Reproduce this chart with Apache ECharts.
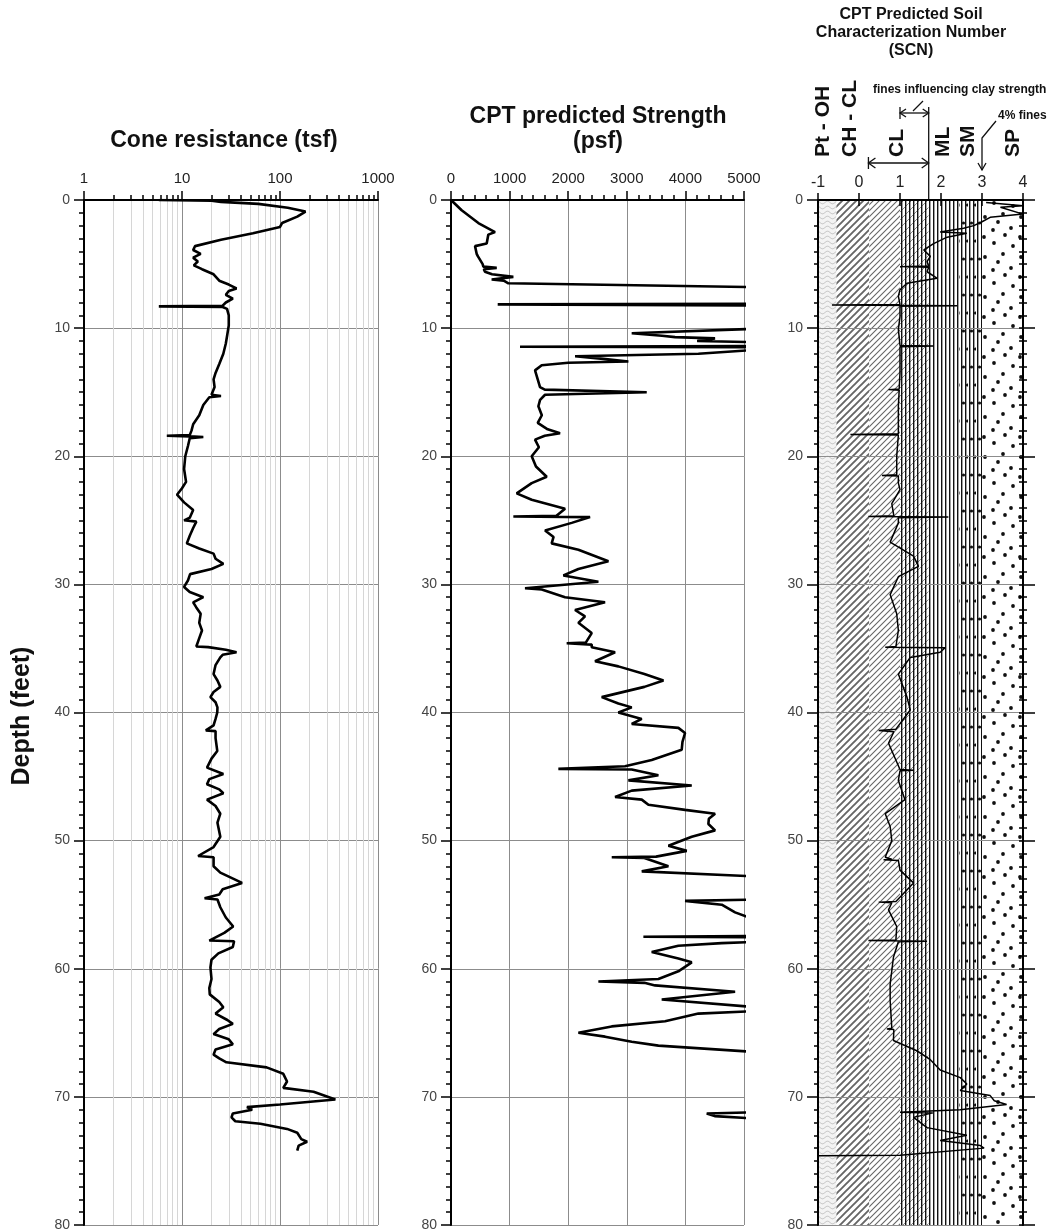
<!DOCTYPE html>
<html>
<head>
<meta charset="utf-8">
<title>CPT log</title>
<script src="https://cdn.jsdelivr.net/npm/echarts@6/dist/echarts.min.js"></script>
<style>
  html, body { margin: 0; padding: 0; background: #fff; }
  #main { width: 1054px; height: 1232px; }
</style>
</head>
<body>
<div id="main"></div>
<script>
// depth (feet) / cone resistance qc (tsf)
var qcDepth = [0, 0.05, 0.15, 0.3, 0.6, 0.9, 1.3, 1.8, 2.1, 2.6, 3.1, 3.6, 3.9, 4.2, 4.5, 4.8, 5.1, 5.4, 5.8, 6.3,
  6.6, 6.9, 7.1, 7.4, 7.7, 8.0, 8.25, 8.3, 8.35, 8.5, 9.0, 9.8, 10.5, 11.2, 12.0, 12.8, 13.5, 14.0, 14.6, 15.2,
  15.3, 15.4, 16.0, 16.8, 17.5, 18.0, 18.35, 18.4, 18.45, 18.5, 18.6, 19.2, 20.0, 21.0, 22.0, 22.5, 23.0, 23.6, 24.2, 24.8,
  25.0, 25.1, 25.6, 26.2, 26.8, 27.2, 27.6, 28.0, 28.4, 28.8, 29.2, 29.7, 30.2, 30.6, 31.0, 31.4, 31.8, 32.3, 33.0, 33.6,
  34.2, 34.85, 34.9, 35.1, 35.3, 35.5, 35.7, 36.3, 37.0, 37.5, 38.0, 38.4, 38.8, 39.2, 39.6, 40.0, 40.5, 41.0, 41.4, 41.45,
  42.0, 43.0, 43.6, 44.3, 44.8, 45.2, 45.6, 46.0, 46.3, 46.8, 47.3, 47.9, 48.6, 49.7, 50.5, 51.2, 51.3, 52.0, 52.5, 53.3,
  53.8, 54.2, 54.5, 54.6, 55.2, 56.0, 56.7, 57.2, 57.8, 57.85, 58.3, 58.8, 59.3, 59.9, 60.8, 61.5, 62.0, 62.6, 63.0, 63.5,
  64.0, 64.3, 64.7, 65.1, 65.5, 65.9, 66.3, 66.7, 67.0, 67.3, 67.7, 68.2, 68.8, 69.3, 69.6, 70.2, 70.6, 70.8, 71.0, 71.3,
  71.6, 71.9, 72.1, 72.5, 72.8, 73.3, 73.5, 73.8, 74.2];
var qcValue = [5.8, 20, 25, 60, 120, 182, 150, 105, 100, 53, 25, 13.6, 13, 15.5, 13, 14.5, 13.2, 16, 21, 24,
  30, 36, 30, 28, 33, 28, 26, 5.8, 26, 28.8, 30, 30, 29, 28, 26.4, 24, 22, 21, 21.5, 20,
  25, 19, 16.5, 15, 13, 12.5, 12, 7, 12, 16.5, 12, 11.5, 10.8, 10.5, 11, 10, 8.9, 10.5, 13, 12,
  10.5, 14, 13, 12, 11.2, 15, 21, 22, 26.4, 20, 12.1, 11.5, 10.5, 12, 16.5, 13, 14, 15.5, 15, 16,
  15, 14, 18.5, 28, 36, 26, 24.6, 22, 21, 23, 24.6, 21, 19.5, 22, 23, 22.9, 22, 21, 17.5, 22,
  22, 22.9, 20, 18, 26.4, 19, 18, 24, 26.4, 18, 22, 24.6, 23, 24.6, 21, 14.6, 21, 21, 24.6, 41,
  26, 24, 17, 23, 24.6, 28, 33.3, 27, 19, 34, 33, 23.5, 20, 19.5, 20, 19, 19.2, 24, 26.4, 22,
  29, 33, 24, 21, 30, 33, 22, 21, 24, 28.4, 73, 108, 118, 108, 220, 367, 100, 46, 52, 33,
  32, 35, 63, 118, 150, 165, 189, 155, 150];

// depth (feet) / predicted undrained strength (psf); values past 5000 run off the chart
var suDepth = [0, 0.8, 1.8, 2.5, 2.7, 3.4, 3.6, 4.2, 4.4, 5.0, 5.2, 5.3, 5.4, 5.6, 5.8, 6.0, 6.2, 6.3, 6.5, 6.8,
  8.1, 8.15, 8.25, 10.0, 10.05, 10.4, 10.6, 10.7, 10.8, 11.0, 11.1, 11.4, 11.45, 11.5, 11.7, 12.0, 12.2, 12.4, 12.6, 12.7,
  12.9, 13.3, 14.0, 14.6, 14.8, 15.0, 15.2, 15.6, 16.1, 16.8, 17.4, 17.9, 18.2, 18.4, 18.7, 19.3, 20.0, 20.8, 21.6, 22.1,
  22.9, 23.4, 24.1, 24.65, 24.7, 24.75, 25.2, 25.8, 26.3, 26.8, 27.3, 28.2, 28.8, 29.3, 29.8, 30.3, 30.4, 31.0, 31.4, 32.0,
  32.5, 33.0, 33.8, 34.55, 34.6, 34.7, 34.9, 35.3, 36.0, 36.4, 37.0, 37.5, 38.0, 38.8, 39.3, 39.6, 40.0, 40.5, 40.9, 41.2,
  41.6, 42.3, 42.9, 43.7, 44.2, 44.35, 44.4, 44.45, 44.9, 45.3, 45.7, 46.1, 46.6, 46.8, 47.2, 47.6, 47.9, 48.3, 48.7, 49.2,
  49.7, 50.4, 50.8, 51.25, 51.3, 51.35, 52.0, 52.4, 52.8, 54.6, 54.7, 55.0, 55.6, 56.2, 57.45, 57.5, 57.55, 57.9, 58.0, 58.2,
  58.7, 59.2, 59.5, 60.2, 60.8, 61.0, 61.1, 61.3, 61.8, 62.4, 63.0, 63.3, 63.5, 64.1, 64.5, 65.0, 65.3, 65.7, 66.0, 66.5,
  71.2, 71.3, 71.5, 71.7, 74.2];
var suValue = [0, 182, 467, 751, 637, 609, 410, 438, 460, 540, 552, 780, 560, 580, 700, 1064, 694, 900, 979, 5200,
  6000, 797, 6000, 6000, 5200, 3084, 3600, 3824, 4506, 4200, 5200, 5200, 1178, 5200, 5200, 4222, 2117, 2600, 3027, 2000,
  1548, 1434, 1480, 1519, 1600, 3340, 1605, 1520, 1491, 1550, 1480, 1650, 1861, 1600, 1434, 1500, 1377, 1450, 1633, 1377,
  1121, 1377, 1946, 1800, 1064, 2373, 2060, 1605, 1750, 1718, 2174, 2686, 2174, 1918, 2515, 1263, 1548, 1946, 2629, 2117,
  2287, 2174, 2401, 2300, 1974, 2401, 2401, 2800, 2458, 2856, 3300, 3625, 3300, 2572, 2856, 3084, 2856, 3255, 3084, 3880,
  3994, 3950, 3937, 3425, 2970, 3000, 1832, 3084, 3539, 3027, 4108, 3084, 2800, 3255, 3369, 3994, 4506, 4400, 4392, 4506,
  4108, 3710, 4023, 3500, 2743, 3300, 3710, 3255, 5200, 5200, 3994, 4620, 4848, 5200, 5200, 3283, 5200, 5200, 4620, 3880,
  3425, 3880, 4108, 3880, 3539, 2515, 3300, 3482, 4848, 3596, 5200, 5200, 4222, 3653, 2743, 2174, 2629, 3084, 3539, 5200,
  5200, 4364, 4500, 5200, 5200];

// depth (feet) / soil characterization number
var scnDepth = [0.2, 0.45, 0.57, 1.1, 1.35, 1.7, 2.0, 2.2, 2.5, 2.6, 2.9, 3.4, 3.9, 4.4, 4.8, 5.15, 5.2, 5.25, 5.6, 6.1,
  6.5, 7.0, 7.5, 8.15, 8.2, 8.25, 8.3, 9.1, 10.1, 11.35, 11.4, 11.45, 11.7, 13.5, 14.75, 14.8, 14.85, 16.1, 18.25, 18.3,
  18.35, 20.0, 21.45, 21.5, 21.55, 22.1, 22.6, 23.7, 24.65, 24.7, 24.75, 24.8, 25.2, 26.7, 27.8, 28.6, 29.4, 30.8, 32.3, 33.6,
  34.85, 34.9, 34.95, 35.3, 35.7, 37.0, 38.8, 39.8, 41.3, 41.4, 41.5, 42.4, 44.45, 44.5, 44.55, 45.3, 46.8, 47.9, 48.9, 50.0,
  51.3, 51.45, 51.5, 51.55, 52.3, 53.3, 54.75, 54.8, 54.85, 55.4, 56.7, 57.75, 57.8, 57.85, 57.9, 59.1, 61.2, 62.5, 64.65, 64.7,
  64.75, 65.6, 66.4, 67.1, 67.9, 68.5, 69.0, 69.5, 69.9, 70.3, 70.6, 71.0, 71.2, 71.25, 71.6, 72.4, 73.0, 73.4, 73.8, 74.0,
  74.55, 74.6, 74.6];
var scnValue = [3.1, 4.0, 3.45, 4.0, 3.2, 3.0, 2.8, 2.55, 1.98, 2.63, 2.15, 1.82, 1.58, 1.74, 1.66, 1.7, 1.0, 1.7, 1.66, 1.9,
  1.17, 1.0, 0.96, 1.0, -0.66, 2.39, 1.0, 1.0, 0.96, 1.0, 1.82, 1.0, 1.0, 1.0, 0.98, 0.72, 0.98, 0.96, 0.96, -0.21,
  0.96, 0.92, 0.92, 0.56, 0.96, 0.96, 1.0, 0.8, 0.85, 0.23, 2.18, 0.96, 0.96, 0.76, 1.33, 1.45, 0.96, 0.76, 0.92, 0.96,
  0.9, 0.64, 2.1, 1.98, 1.25, 0.96, 1.17, 1.25, 0.9, 0.48, 0.85, 0.72, 1.0, 1.33, 1.0, 0.96, 1.12, 0.64, 0.76, 0.8,
  0.64, 0.8, 0.6, 0.96, 1.0, 1.33, 0.9, 0.48, 0.8, 0.72, 0.92, 0.9, 0.23, 1.66, 0.96, 0.84, 0.76, 0.76, 0.8, 0.68,
  0.85, 0.84, 1.41, 1.74, 1.98, 2.47, 2.63, 2.47, 3.2, 3.3, 3.6, 2.47, 1.0, 1.8, 1.33, 1.66, 2.63, 1.98, 2.96, 3.05,
  1.0, 1.0, -1];

// soil zones on the SCN scale
var bandFrom = [-1, -0.55, 0.25, 1, 1.7, 2.45, 3];
var bandTo = [-0.55, 0.25, 1, 1.7, 2.45, 3, 4];

var FONT = '"Liberation Sans", Arial, Helvetica, sans-serif';

function pairs(xs, ys) {
  var out = [];
  for (var i = 0; i < xs.length; i++) out.push([xs[i], ys[i]]);
  return out;
}

function tile(w, h, draw) {
  var c = document.createElement('canvas');
  c.width = w;
  c.height = h;
  var ctx = c.getContext('2d');
  ctx.fillStyle = '#fff';
  ctx.fillRect(0, 0, w, h);
  draw(ctx, w, h);
  return { image: c, repeat: 'repeat' };
}
function vlines(ctx, w, h) {
  ctx.fillStyle = '#111';
  for (var x = 1; x < w; x += 4) ctx.fillRect(x, 0, 1.4, h);
}
function diag(ctx, s, color, lw) {
  ctx.strokeStyle = color;
  ctx.lineWidth = lw;
  ctx.beginPath();
  ctx.moveTo(-1, s + 1); ctx.lineTo(s + 1, -1);
  ctx.moveTo(-1, 1); ctx.lineTo(1, -1);
  ctx.moveTo(s - 1, s + 1); ctx.lineTo(s + 1, s - 1);
  ctx.stroke();
}
function dots(ctx, pts, r) {
  ctx.fillStyle = '#111';
  pts.forEach(function (p) {
    ctx.beginPath();
    ctx.arc(p[0], p[1], r, 0, Math.PI * 2);
    ctx.fill();
  });
}

var patterns = [
  tile(10, 5, function (ctx) {
    ctx.fillStyle = '#f3f3f3';
    ctx.fillRect(0, 0, 10, 5);
    ctx.strokeStyle = '#b5b5b5';
    ctx.lineWidth = 0.8;
    ctx.beginPath();
    for (var x = 0; x <= 10; x += 0.5) {
      var y = 2.5 + 1.3 * Math.sin(x / 10 * Math.PI * 2);
      if (x === 0) ctx.moveTo(x, y); else ctx.lineTo(x, y);
    }
    ctx.stroke();
  }),
  tile(7, 7, function (ctx) { diag(ctx, 7, '#666', 1.9); }),
  tile(6, 6, function (ctx) { diag(ctx, 6, '#666', 1.1); }),
  tile(8, 8, function (ctx, w, h) { diag(ctx, 8, '#888', 1); vlines(ctx, w, h); }),
  tile(8, 8, vlines),
  tile(8, 36, function (ctx, w, h) { vlines(ctx, w, h); dots(ctx, [[3.5, 7], [7.5, 25]], 1.6); }),
  tile(36, 40, function (ctx) {
    dots(ctx, [[5, 6], [22, 3], [31, 14], [13, 17], [3, 28], [21, 30], [33, 35], [26, 22], [12, 37]], 1.9);
  })
];

var chart = echarts.init(document.getElementById('main'), null, { renderer: 'canvas' });

var grids = [
  { left: 84, top: 200, width: 294, height: 1025 },
  { left: 451, top: 200, width: 293, height: 1025 },
  { left: 818, top: 200, width: 205, height: 1025 }
];

var tickStyle = { color: '#000', width: 1.5 };
var plain = function (v) { return String(v); };

function depthAxis(grid, extra) {
  var ax = {
    gridIndex: grid,
    type: 'value',
    inverse: true,
    min: 0,
    max: 80,
    interval: 10,
    axisLine: { show: true, onZero: false, lineStyle: { color: '#000', width: 2 } },
    axisTick: { show: true, length: 10, lineStyle: tickStyle },
    minorTick: { show: true, splitNumber: 10, length: 5, lineStyle: tickStyle },
    axisLabel: { show: true, fontSize: 14, color: '#444', margin: 14, fontFamily: FONT },
    splitLine: { show: true, lineStyle: { color: '#8c8c8c', width: 1 } }
  };
  return Object.assign(ax, extra || {});
}

var option = {
  animation: false,
  backgroundColor: '#fff',
  grid: grids,
  xAxis: [
    {
      gridIndex: 0, type: 'log', logBase: 10, min: 1, max: 1000, position: 'top',
      axisLine: { show: true, onZero: false, lineStyle: { color: '#000', width: 2 } },
      axisTick: { show: true, length: 9, lineStyle: tickStyle },
      minorTick: { show: true, splitNumber: 9, length: 5, lineStyle: tickStyle },
      axisLabel: { fontSize: 15, color: '#222', margin: 14, fontFamily: FONT, formatter: plain },
      splitLine: { show: true, lineStyle: { color: '#8c8c8c', width: 1 } },
      minorSplitLine: { show: true, lineStyle: { color: '#d6d6d6', width: 1 } }
    },
    {
      gridIndex: 1, type: 'value', min: 0, max: 5000, interval: 1000, position: 'top',
      axisLine: { show: true, onZero: false, lineStyle: { color: '#000', width: 2 } },
      axisTick: { show: true, length: 9, lineStyle: tickStyle },
      minorTick: { show: true, splitNumber: 5, length: 5, lineStyle: tickStyle },
      axisLabel: { fontSize: 15, color: '#222', margin: 14, fontFamily: FONT, formatter: plain },
      splitLine: { show: true, lineStyle: { color: '#8c8c8c', width: 1 } }
    },
    {
      gridIndex: 2, type: 'value', min: -1, max: 4, interval: 1, position: 'top', z: 4,
      axisLine: { show: true, onZero: false, lineStyle: { color: '#000', width: 2 } },
      axisTick: { show: true, length: 7, lineStyle: tickStyle },
      axisLabel: { fontSize: 16, color: '#222', margin: 9, fontFamily: FONT, formatter: plain },
      splitLine: { show: false }
    },
    {
      gridIndex: 2, type: 'value', min: -1, max: 4, interval: 1, position: 'top', z: 4,
      axisLine: { show: false, onZero: false },
      axisTick: { show: true, inside: true, length: 6, lineStyle: tickStyle },
      axisLabel: { show: false },
      splitLine: { show: false }
    }
  ],
  yAxis: [
    depthAxis(0),
    depthAxis(1),
    depthAxis(2, { z: 4, axisTick: { show: true, length: 11, lineStyle: tickStyle },
      minorTick: { show: true, splitNumber: 10, length: 4, lineStyle: tickStyle },
      axisLabel: { show: true, fontSize: 14, color: '#444', margin: 15, fontFamily: FONT },
      splitLine: { show: false } }),
    depthAxis(2, { z: 4, axisLine: { show: false, onZero: false }, axisLabel: { show: false },
      axisTick: { show: true, inside: true, length: 4, lineStyle: tickStyle },
      minorTick: { show: true, splitNumber: 10, length: 4, lineStyle: tickStyle },
      splitLine: { show: true, lineStyle: { color: '#8c8c8c', width: 1 } } }),
    depthAxis(2, { z: 4, position: 'right', axisLabel: { show: false },
      axisTick: { show: true, length: 12, lineStyle: tickStyle },
      minorTick: { show: true, splitNumber: 10, length: 4, lineStyle: tickStyle },
      splitLine: { show: false } }),
    depthAxis(2, { z: 4, position: 'right', axisLine: { show: false, onZero: false }, axisLabel: { show: false },
      axisTick: { show: true, inside: true, length: 4, lineStyle: tickStyle },
      minorTick: { show: true, splitNumber: 10, length: 4, lineStyle: tickStyle },
      splitLine: { show: false } })
  ],
  series: [
    {
      name: 'qc', type: 'line', xAxisIndex: 0, yAxisIndex: 0,
      data: pairs(qcValue, qcDepth), symbol: 'none', clip: true,
      lineStyle: { color: '#000', width: 2.6 }
    },
    {
      name: 'su', type: 'line', xAxisIndex: 1, yAxisIndex: 1,
      data: pairs(suValue, suDepth), symbol: 'none', clip: true,
      lineStyle: { color: '#000', width: 2.6 }
    },
    {
      name: 'zones', type: 'custom', xAxisIndex: 2, yAxisIndex: 2, z: 1, silent: true,
      data: bandFrom.map(function (f, i) { return [f, bandTo[i], i]; }),
      encode: { x: [0, 1] },
      renderItem: function (params, api) {
        var p0 = api.coord([api.value(0), 0]);
        var p1 = api.coord([api.value(1), 80]);
        return {
          type: 'rect',
          shape: { x: p0[0], y: p0[1], width: p1[0] - p0[0], height: p1[1] - p0[1] },
          style: { fill: patterns[api.value(2)] }
        };
      }
    },
    {
      name: 'scn', type: 'line', xAxisIndex: 2, yAxisIndex: 2, z: 5,
      data: pairs(scnValue, scnDepth), symbol: 'none', clip: true,
      lineStyle: { color: '#000', width: 1.5 }
    }
  ]
};
chart.setOption(option);

// header annotations of the SCN track
function px(v) { return chart.convertToPixel({ xAxisIndex: 2 }, v); }
function txt(t, x, y, size, rot, align) {
  return {
    type: 'text', x: x, y: y, rotation: rot || 0,
    style: {
      text: t, x: 0, y: 0, fill: '#111',
      fontSize: size, fontWeight: 'bold', fontFamily: FONT,
      align: align || 'center', textAlign: align || 'center',
      verticalAlign: 'middle', textVerticalAlign: 'middle'
    }
  };
}
function seg(pts, w) {
  return { type: 'polyline', shape: { points: pts }, style: { stroke: '#111', lineWidth: w || 1.3, fill: null } };
}
var R = Math.PI / 2;
var xCL0 = px(0.23), xF0 = px(1), xF1 = px(1.7), x3 = px(3);
var g = [
  txt('Cone resistance (tsf)', 224, 141, 23),
  txt('CPT predicted Strength', 598, 117, 23),
  txt('(psf)', 598, 142, 23),
  txt('CPT Predicted Soil', 911, 15, 16),
  txt('Characterization Number', 911, 33, 16),
  txt('(SCN)', 911, 51, 16),
  txt('Depth (feet)', 22, 716, 25, R),
  txt('Pt - OH', 823, 157, 21, R, 'left'),
  txt('CH - CL', 850, 157, 21, R, 'left'),
  txt('CL', 897, 157, 21, R, 'left'),
  txt('ML', 943, 157, 21, R, 'left'),
  txt('SM', 968, 157, 21, R, 'left'),
  txt('SP', 1013, 157, 21, R, 'left'),
  txt('fines influencing clay strength', 873, 90, 12, 0, 'left'),
  txt('4% fines', 998, 116, 12, 0, 'left'),
  // fines arrow
  seg([[xF0, 113], [xF1, 113]]),
  seg([[xF0 + 6, 109], [xF0, 113], [xF0 + 6, 117]]),
  seg([[xF1 - 6, 109], [xF1, 113], [xF1 - 6, 117]]),
  seg([[xF0, 107], [xF0, 119]]),
  seg([[913, 111], [923, 101]]),
  // boundary line
  seg([[xF1, 107], [xF1, 199]]),
  // CL arrow
  seg([[xCL0, 163], [xF1, 163]]),
  seg([[xCL0 + 7, 158], [xCL0, 163], [xCL0 + 7, 168]]),
  seg([[xF1 - 7, 158], [xF1, 163], [xF1 - 7, 168]]),
  seg([[xCL0, 157], [xCL0, 169]]),
  // 4% fines arrow
  seg([[996, 121], [x3, 138], [x3, 170]]),
  seg([[x3 - 4, 163], [x3, 170], [x3 + 4, 163]])
];
chart.setOption({ graphic: g });
</script>
</body>
</html>
